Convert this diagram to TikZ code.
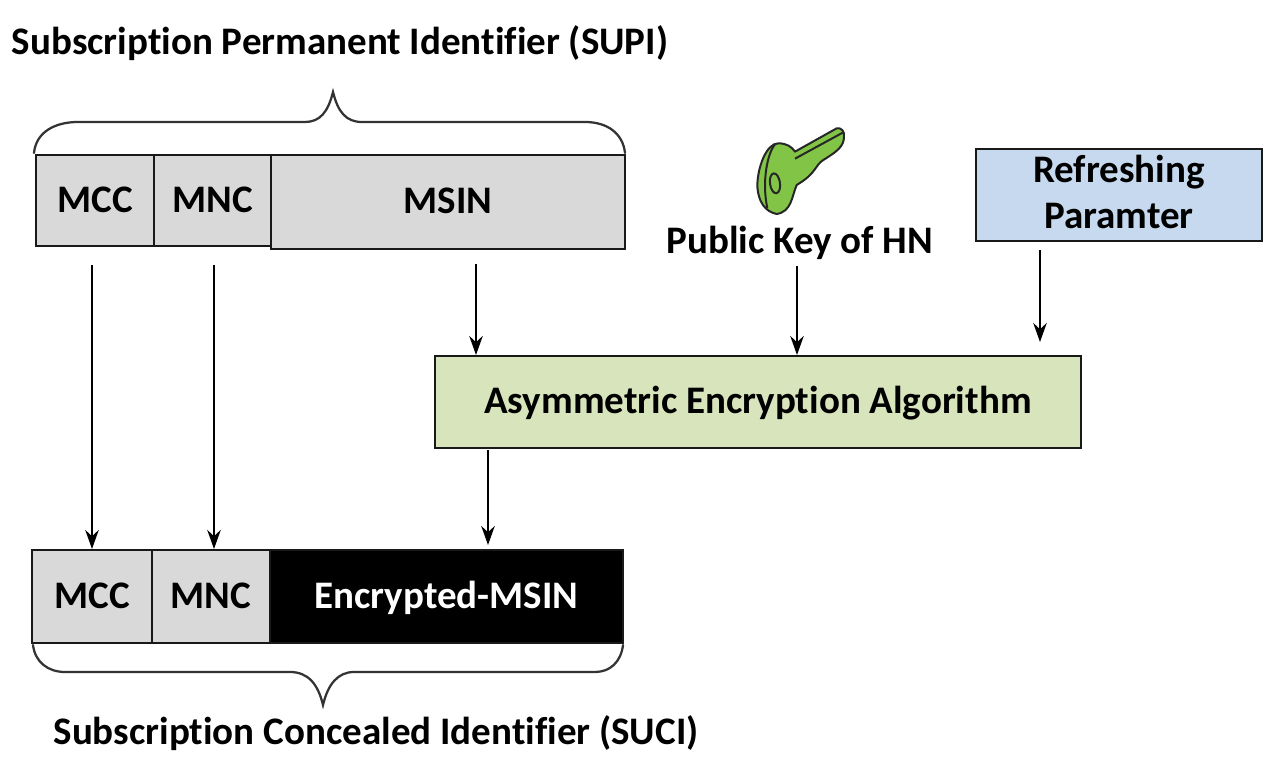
\documentclass[tikz,border=0pt]{standalone}
\usepackage{fontspec}
\setmainfont[Ligatures=NoCommon]{Carlito}
\usetikzlibrary{arrows.meta}
\definecolor{cellgray}{RGB}{217,217,217}
\definecolor{blockgreen}{RGB}{215,228,188}
\definecolor{blockblue}{RGB}{198,217,238}
\definecolor{keygreen}{RGB}{130,197,70}
\tikzset{
  cell/.style={draw=black!90,line width=0.045cm,fill=cellgray,inner sep=0pt,text height=0.48cm,text depth=0cm,font=\fontsize{22.2}{26.7}\selectfont\bfseries,text=black},
  label/.style={inner sep=0pt,font=\fontsize{22.2}{26.7}\selectfont\bfseries,text=black},
  brace/.style={draw=black!80,line width=0.045cm,line cap=round},
  arrow/.style={draw=black,line width=0.04cm,-{Stealth[length=0.38cm,width=0.27cm]}}
}
\begin{document}
\begin{tikzpicture}[x=0.02cm,y=-0.02cm]
      \useasboundingbox (0,0) rectangle (1272,770);
      \draw
        (95,200.5) node[cell,minimum width=2.36cm,minimum height=1.82cm] (mcctop){MCC}
        (212.5,200.5) node[cell,minimum width=2.34cm,minimum height=1.82cm] (mnctop){MNC}
        (448,202) node[cell,minimum width=7.08cm,minimum height=1.88cm] (msin){MSIN}
        (92,596.5) node[cell,minimum width=2.40cm,minimum height=1.86cm] (mcclow){MCC}
        (211,596.5) node[cell,minimum width=2.36cm,minimum height=1.86cm] (mnclow){MNC}
        (446.5,596.5) node[cell,fill=black,minimum width=7.06cm,minimum height=1.86cm,text=white] (encmsin){Encrypted-MSIN}
        (758,402) node[cell,fill=blockgreen,minimum width=12.92cm,minimum height=1.84cm] (algo){Asymmetric Encryption Algorithm}
        (1119,195) node[cell,fill=blockblue,minimum width=5.72cm,minimum height=1.84cm,align=center,text height=1.36cm] (refresh){Refreshing\\Paramter}
        (340,43) node[label] (supi){Subscription Permanent Identifier (SUPI)}
        (376,733) node[label] (suci){Subscription Concealed Identifier (SUCI)}
        (800,243) node[label] (pubkey){Public Key of HN};
      \draw[brace] (34,153) .. controls (36,132) and (55,122) .. (78,122) -- (305,122)
        .. controls (320,122) and (328,112) .. (333,92)
        .. controls (338,112) and (346,122) .. (362,122) -- (585,122)
        .. controls (608,122) and (623,134) .. (625,153);
      \draw[brace] (33,645) .. controls (35,662) and (48,672) .. (65,672) -- (290,672)
        .. controls (308,672) and (318,684) .. (323,705)
        .. controls (328,684) and (338,672) .. (354,672) -- (595,672)
        .. controls (610,672) and (621,662) .. (623,645);
      \begin{scope}[shift={(680,110)},x=0.00667cm,y=-0.00667cm,draw=black!85,line width=0.04cm]
        \draw[fill=keygreen,line join=round] (290,312) .. controls (255,305) and (235,275) .. (232,230)
          .. controls (232,170) and (260,100) .. (295,100)
          .. controls (320,100) and (335,110) .. (345,125) -- (470,55)
          .. controls (485,52) and (494,65) .. (492,80)
          .. controls (492,110) and (470,125) .. (430,150)
          .. controls (405,165) and (410,190) .. (350,225)
          .. controls (335,260) and (335,305) .. (290,312) -- cycle;
        \draw (345,146) -- (488,68);
        \draw (285,103) .. controls (262,130) and (245,215) .. (262,295);
        \draw[rotate around={8:(285,220)}] (285,220) ellipse (15 and 30);
      \end{scope}
      \coordinate (mccstart) at (92,265);
      \coordinate (mncstart) at (214,265);
      \coordinate (msinstart) at (476,264);
      \coordinate (msinend) at (476,355);
      \coordinate (keystart) at (797,266);
      \coordinate (keyend) at (797,355);
      \coordinate (refreshstart) at (1040,250);
      \coordinate (refreshend) at (1040,342);
      \coordinate (algostart) at (488,450);
      \coordinate (algoend) at (488,545);
      \coordinate (mccend) at (92,549);
      \coordinate (mncend) at (214,549);
      \draw[arrow] (mccstart) to (mccend);
      \draw[arrow] (mncstart) to (mncend);
      \draw[arrow] (msinstart) to (msinend);
      \draw[arrow] (keystart) to (keyend);
      \draw[arrow] (refreshstart) to (refreshend);
      \draw[arrow] (algostart) to (algoend);
    \end{tikzpicture}
\end{document}
